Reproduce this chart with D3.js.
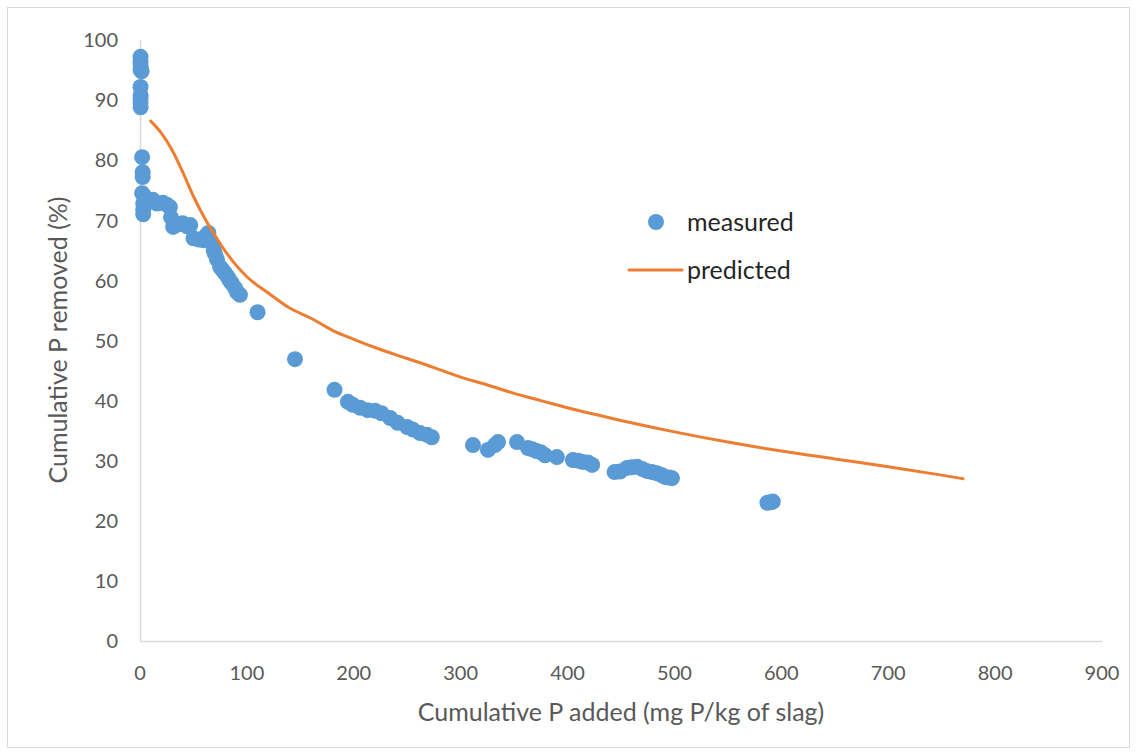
<!DOCTYPE html>
<html>
<head>
  <meta charset="utf-8">
  <title>Cumulative P removed vs added</title>
  <script src="https://d3js.org/d3.v7.min.js"></script>
  <style>
    body { margin: 0; background: #fff; }
    text { font-family: Lato, "Open Sans", sans-serif; }
  </style>
</head>
<body>
  <svg id="chart" width="1137" height="755"></svg>

  <script>
    // measured points [P added, P removed %]
    const measured = [
      [0.5, 97.2], [0.5, 96.5], [0.5, 96.0], [0.8, 95.3], [0.5, 95.0], [1.5, 94.8],
      [0.5, 92.2], [0.6, 90.8], [0.5, 90.2], [0.5, 89.5], [0.6, 88.8],
      [2, 80.5], [2.5, 78], [2.5, 77.2], [2, 74.5], [4, 74], [3, 72.8], [3, 71.8], [3, 71],
      [7, 73], [12, 73.4], [16, 72.8], [21.5, 72.9], [25, 72.6], [28, 72.2], [29, 70.5],
      [31, 68.9], [35, 69.3], [40, 69.5], [44, 69], [47, 69.2], [50, 67], [55, 66.8],
      [59, 66.7], [62, 67.5], [64, 67.9], [66, 66.5], [67, 66.2], [69, 65], [70, 64.5],
      [72, 63.5], [75, 62.2], [77, 61.8], [79.5, 61.2], [82, 60.6], [84, 60], [86, 59.5],
      [89, 58.7], [91, 58], [93.5, 57.6], [110, 54.7], [145, 46.9], [182, 41.8],
      [194.5, 39.8], [199, 39.3], [206, 38.8], [213, 38.4], [220, 38.3], [226, 37.9],
      [234, 37.1], [241, 36.3], [250, 35.6], [255, 35.2], [262, 34.6], [268.5, 34.3],
      [273, 33.9], [311.5, 32.6], [325.5, 31.8], [332, 32.6], [335, 33.1], [352.7, 33.1],
      [363, 32.1], [367, 31.9], [371, 31.6], [375, 31.4], [379, 30.9], [390, 30.6],
      [405, 30.1], [410, 30], [414, 29.8], [419, 29.7], [423, 29.3], [444, 28.1],
      [449, 28.2], [455.6, 28.8], [460, 28.9], [465, 29.0], [470, 28.6], [474, 28.3],
      [479, 28.1], [483.6, 27.9], [488, 27.6], [491, 27.3], [495, 27.2], [497.7, 27.1],
      [587, 23.0], [590, 23.1], [592, 23.2]
    ];

    // predicted curve
    const predicted = [
      [10, 86.5], [20, 84.5], [30, 81.7], [40, 78], [50, 74], [60, 70.5], [70, 67.5],
      [80, 64.8], [90, 62.5], [100, 60.6], [120, 57.9], [140, 55.4], [160, 53.7],
      [180, 51.7], [200, 50.2], [225, 48.5], [250, 47], [275, 45.5], [300, 43.9],
      [325, 42.6], [350, 41.2], [375, 40], [400, 38.8], [450, 36.7], [500, 34.8],
      [550, 33.1], [600, 31.6], [650, 30.3], [700, 29], [750, 27.6], [770, 27]
    ];

    const xTicks = [0, 100, 200, 300, 400, 500, 600, 700, 800, 900];
    const yTicks = [0, 10, 20, 30, 40, 50, 60, 70, 80, 90, 100];

    const svg = d3.select("#chart");

    // outer frame
    svg.append("rect")
      .attr("x", 7.5).attr("y", 7.5)
      .attr("width", 1122).attr("height", 740)
      .attr("fill", "none").attr("stroke", "#d9d9d9");

    const x = d3.scaleLinear().domain([0, 900]).range([140, 1102]);
    const y = d3.scaleLinear().domain([0, 100]).range([641, 40]);

    // axis lines
    svg.append("line")
      .attr("x1", x(0)).attr("x2", x(900)).attr("y1", y(0) + 0.5).attr("y2", y(0) + 0.5)
      .attr("stroke", "#d9d9d9").attr("stroke-width", 1.5);
    svg.append("line")
      .attr("x1", x(0) + 0.5).attr("x2", x(0) + 0.5).attr("y1", y(0)).attr("y2", y(100))
      .attr("stroke", "#d9d9d9").attr("stroke-width", 1.5);

    // tick labels
    svg.selectAll(".ylab")
      .data(yTicks)
      .enter()
      .append("text")
      .attr("class", "ylab")
      .attr("x", 118)
      .attr("y", d => y(d))
      .attr("dy", "0.36em")
      .attr("text-anchor", "end")
      .attr("fill", "#595959")
      .style("font-size", "20px")
      .text(d => d);

    svg.selectAll(".xlab")
      .data(xTicks)
      .enter()
      .append("text")
      .attr("class", "xlab")
      .attr("x", d => x(d))
      .attr("y", 680)
      .attr("text-anchor", "middle")
      .attr("fill", "#595959")
      .style("font-size", "20px")
      .text(d => d);

    // axis titles
    svg.append("text")
      .attr("x", 621).attr("y", 721)
      .attr("text-anchor", "middle")
      .attr("fill", "#595959")
      .style("font-size", "25px")
      .text("Cumulative P added (mg P/kg of slag)");

    svg.append("text")
      .attr("transform", "translate(67,340) rotate(-90)")
      .attr("text-anchor", "middle")
      .attr("fill", "#595959")
      .style("font-size", "25px")
      .text("Cumulative P removed (%)");

    // measured points
    svg.append("g")
      .selectAll("circle")
      .data(measured)
      .enter()
      .append("circle")
      .attr("cx", d => x(d[0]))
      .attr("cy", d => y(d[1]))
      .attr("r", 8)
      .attr("fill", "#5b9bd5");

    // predicted line
    const line = d3.line().x(d => x(d[0])).y(d => y(d[1])).curve(d3.curveMonotoneX);
    svg.append("path")
      .datum(predicted)
      .attr("d", line)
      .attr("fill", "none")
      .attr("stroke", "#ed7d31")
      .attr("stroke-width", 3)
      .attr("stroke-linecap", "round");

    // legend
    const legend = svg.append("g");
    legend.append("circle")
      .attr("cx", 656).attr("cy", 222).attr("r", 8)
      .attr("fill", "#5b9bd5");
    legend.append("text")
      .attr("x", 687).attr("y", 222).attr("dy", "0.35em")
      .attr("fill", "#262626")
      .style("font-size", "25px")
      .text("measured");
    legend.append("line")
      .attr("x1", 629).attr("x2", 682).attr("y1", 270).attr("y2", 270)
      .attr("stroke", "#ed7d31").attr("stroke-width", 3)
      .attr("stroke-linecap", "round");
    legend.append("text")
      .attr("x", 687).attr("y", 270).attr("dy", "0.35em")
      .attr("fill", "#262626")
      .style("font-size", "25px")
      .text("predicted");
  </script>
</body>
</html>
